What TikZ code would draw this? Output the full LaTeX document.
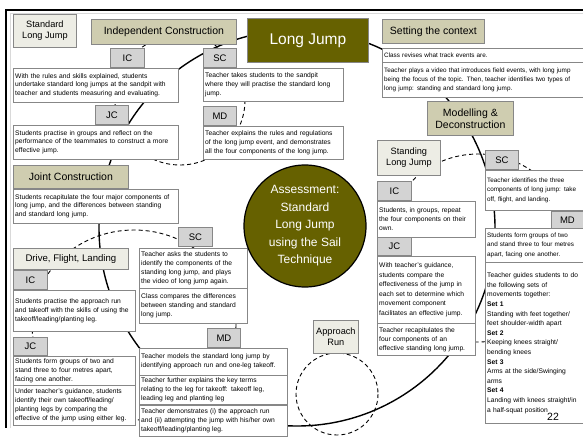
\documentclass[tikz,border=0pt]{standalone}
\usepackage{fontspec}
\setmainfont{Liberation Sans}
\usetikzlibrary{positioning,shapes}
\definecolor{jumpolive}{RGB}{102,97,0}
\definecolor{stagefill}{RGB}{207,205,176}
\definecolor{notefill}{RGB}{237,237,229}
\definecolor{tagfill}{RGB}{211,211,211}
\definecolor{edgegray}{RGB}{135,135,135}
\tikzset{
    %Define style for stage boxes
    stage/.style={
           rectangle,
           draw=edgegray, thick,
           fill=stagefill,
           inner sep=0pt,
           anchor=north west,
           align=center,
           font=\fontsize{10.5}{12}\selectfont},
    %Define style for topic boxes
    topic/.style={
           stage,
           fill=notefill,
           font=\fontsize{9.2}{11}\selectfont},
    %Define style for IC, JC, SC, MD tags
    tag/.style={
           rectangle,
           draw=edgegray, thick,
           fill=tagfill,
           inner sep=0pt,
           minimum width=34pt,
           minimum height=19pt,
           anchor=north west,
           font=\fontsize{9.5}{10}\selectfont},
    %Define style for text boxes
    txt/.style={
           rectangle,
           draw=edgegray,
           fill=white,
           inner xsep=2pt, inner ysep=1.5pt,
           anchor=north west,
           align=left,
           font=\fontsize{6.7}{8.9}\selectfont},
    %Define a smaller font for the tight boxes
    tight/.style={font=\fontsize{6.35}{9.2}\selectfont},
    % Define style for the cycles
    cyc/.style={line width=1.4pt},
    dashloop/.style={line width=0.9pt, dash pattern=on 4pt off 3pt}
}

\begin{document}
\begin{tikzpicture}[x=1pt,y=-1pt]
\useasboundingbox (0,0) rectangle (583,444);
\draw[black!15, line width=0.6pt] (583,13) -- (10,13) -- (10,428);
\draw[line width=2pt] (583,10) -- (6,10) -- (6,428);
% cycles behind the boxes
\coordinate (cAll) at (297,228);
\coordinate (cInd) at (180,100);
\coordinate (cDrv) at (134,325);
\coordinate (cStd) at (478,248);
\coordinate (cRun) at (337,394);
\draw[cyc] (cAll) circle (198);
\draw[dashloop] (cInd) circle (65);
\draw[dashloop] (cDrv) ellipse [x radius=102, y radius=95];
\draw[dashloop] (cStd) circle (94);
\draw[dashloop] (cRun) circle (41);

% top row
\node[topic, minimum width=63pt, minimum height=33pt] (std) at (13,14) {Standard\\Long Jump};
\node[stage, minimum width=145pt, minimum height=25pt] (indep) at (91,19) {Independent Construction};
\node[rectangle, draw=edgegray, thick, fill=jumpolive, text=white, anchor=north west,
      minimum width=121pt, minimum height=44pt, font=\fontsize{15.5}{18}\selectfont] (lj) at (247,18) {Long Jump};
\node[stage, minimum width=102pt, minimum height=24pt] (ctx) at (382,19) {Setting the context};

% independent construction
\node[tag] (ic1) at (110,48) {IC};
\node[txt, text width=160.6pt, minimum height=34pt] (t1) at (13,68) {With the rules and skills explained, students\\undertake standard long jumps at the sandpit with\\teacher and students measuring and evaluating.};
\node[tag, minimum width=33pt] (jc1) at (95,105) {JC};
\node[txt, text width=160.6pt, minimum height=34pt] (t2) at (13,125) {Students practise in groups and reflect on the\\performance of the teammates to construct a more\\effective jump.};
\node[tag, minimum width=33pt] (sc1) at (203,48) {SC};
\node[txt, text width=135.6pt, minimum height=33pt, below right=0pt and 0pt of sc1.south west] (t3) {Teacher takes students to the sandpit\\where they will practise the standard long\\jump.};
\node[tag, minimum width=33pt] (md1) at (203,106) {MD};
\node[txt, text width=135.6pt, minimum height=33pt, below right=0pt and 0pt of md1.south west] (t4) {Teacher explains the rules and regulations\\of the long jump event, and demonstrates\\all the four components of the long jump.};

% joint construction
\node[stage, minimum width=115pt, minimum height=23pt] (joint) at (13,165) {Joint Construction};
\node[txt, text width=160.6pt, minimum height=34pt] (t5) at (13,189) {Students recapitulate the four major components of\\long jump, and the differences between standing\\and standard long jump.};

% drive, flight, landing
\node[topic, minimum width=115pt, minimum height=21pt, font=\fontsize{9.6}{11}\selectfont] (dfl) at (13,248) {Drive, Flight, Landing};
\node[tag] (ic2) at (13,270) {IC};
\node[txt, text width=117.6pt, minimum height=41pt, below right=0pt and 0pt of ic2.south west] (t6) {Students practise the approach run\\and takeoff with the skills of using the\\takeoff/leading/planting leg.};
\node[tag, minimum height=18pt] (jc2) at (13,337) {JC};
\node[txt, text width=117.6pt, minimum height=29pt, below right=0pt and 0pt of jc2.south west] (t7) {Students form groups of two and\\stand three to four metres apart,\\facing one another.};
\node[txt, text width=117.6pt, minimum height=40pt, below right=0pt and 0pt of t7.south west] (t8) {Under teacher's guidance, students\\identify their own takeoff/leading/\\planting legs by comparing the\\effective of the jump using either leg.};
\node[tag] (sc2) at (178,227) {SC};
\node[txt, text width=103.6pt, minimum height=40pt] (t9) at (139,248) {Teacher asks the students to\\identify the components of the\\standing long jump, and plays\\the video of long jump again.};
\node[txt, text width=103.6pt, minimum height=35pt, below right=0pt and 0pt of t9.south west] (t10) {Class compares the differences\\between standing and standard\\long jump.};
\node[tag, minimum width=33pt] (md2) at (207,328) {MD};
\node[txt, text width=143.6pt, minimum height=27pt] (t11) at (139,348) {Teacher models the standard long jump by\\identifying approach run and one-leg takeoff.};
\node[txt, text width=143.6pt, minimum height=29pt, below right=0pt and 0pt of t11.south west] (t12) {Teacher further explains the key terms\\relating to the leg for takeoff: takeoff leg,\\leading leg and planting leg};
\node[txt, text width=143.6pt, minimum height=31pt, below right=0pt and 0pt of t12.south west] (t13) {Teacher demonstrates (i) the approach run\\and (ii) attempting the jump with his/her own\\takeoff/leading/planting leg.};

% assessment and approach run
\node[circle, draw=black, line width=1.2pt, fill=jumpolive, text=white, inner sep=0pt,
      minimum size=122pt, align=center, font=\fontsize{12}{17.5}\selectfont] (assess) at (305,226) {Assessment:\\Standard\\Long Jump\\using the Sail\\Technique};
\node[topic, minimum width=45pt, minimum height=33pt] (run) at (313,320) {Approach\\Run};

% setting the context
\node[txt, tight, text width=196.6pt, minimum height=14pt] (t14) at (382,48) {Class revises what track events are.};
\node[txt, tight, text width=196.6pt, minimum height=35pt, below right=0pt and 0pt of t14.south west] (t15) {Teacher plays a video that introduces field events, with long jump\\being the focus of the topic. Then, teacher identifies two types of\\long jump: standing and standard long jump.};

% modelling and deconstruction
\node[stage, minimum width=86pt, minimum height=34pt] (mod) at (427,101) {Modelling \&\\Deconstruction};
\node[topic, minimum width=63pt, minimum height=35pt] (slj) at (377,140) {Standing\\Long Jump};
\node[tag] (ic3) at (377,181) {IC};
\node[txt, text width=93.6pt, minimum height=36pt, below right=0pt and 0pt of ic3.south west] (t16) {Students, in groups, repeat\\the four components on their\\own.};
\node[tag, minimum height=18pt, below right=0pt and 0pt of t16.south west] (jc3) {JC};
\node[txt, text width=93.6pt, minimum height=67pt, font=\fontsize{6.7}{9.6}\selectfont, below right=0pt and 0pt of jc3.south west] (t17) {With teacher's guidance,\\students compare the\\effectiveness of the jump in\\each set to determine which\\movement component\\facilitates an effective jump.};
\node[txt, text width=93.6pt, minimum height=32pt, below right=0pt and 0pt of t17.south west] (t18) {Teacher recapitulates the\\four components of an\\effective standing long jump.};
\node[tag, minimum width=33pt] (sc3) at (485,150) {SC};
\node[txt, tight, text width=93.6pt, minimum height=40pt] (t19) at (485,170) {Teacher identifies the three\\components of long jump: take\\off, flight, and landing.};
\node[tag, minimum width=32pt, minimum height=17pt] (md3) at (551,211) {MD};
\node[txt, tight, text width=93.6pt, minimum height=34pt] (t20) at (485,228) {Students form groups of two\\and stand three to four metres\\apart, facing one another.};
\node[txt, text width=93.6pt, minimum height=161pt, font=\fontsize{6.7}{9.6}\selectfont, below right=0pt and 0pt of t20.south west] (t21) {Teacher guides students to do\\the following sets of\\movements together:\\\textbf{Set 1}\\Standing with feet together/\\feet shoulder-width apart\\\textbf{Set 2}\\Keeping knees straight/\\bending knees\\\textbf{Set 3}\\Arms at the side/Swinging\\arms\\\textbf{Set 4}\\Landing with knees straight/in\\a half-squat position\\[12pt]};
\node[font=\fontsize{10.5}{12}\selectfont] (pg) at (553,417) {22};
\end{tikzpicture}
\end{document}
